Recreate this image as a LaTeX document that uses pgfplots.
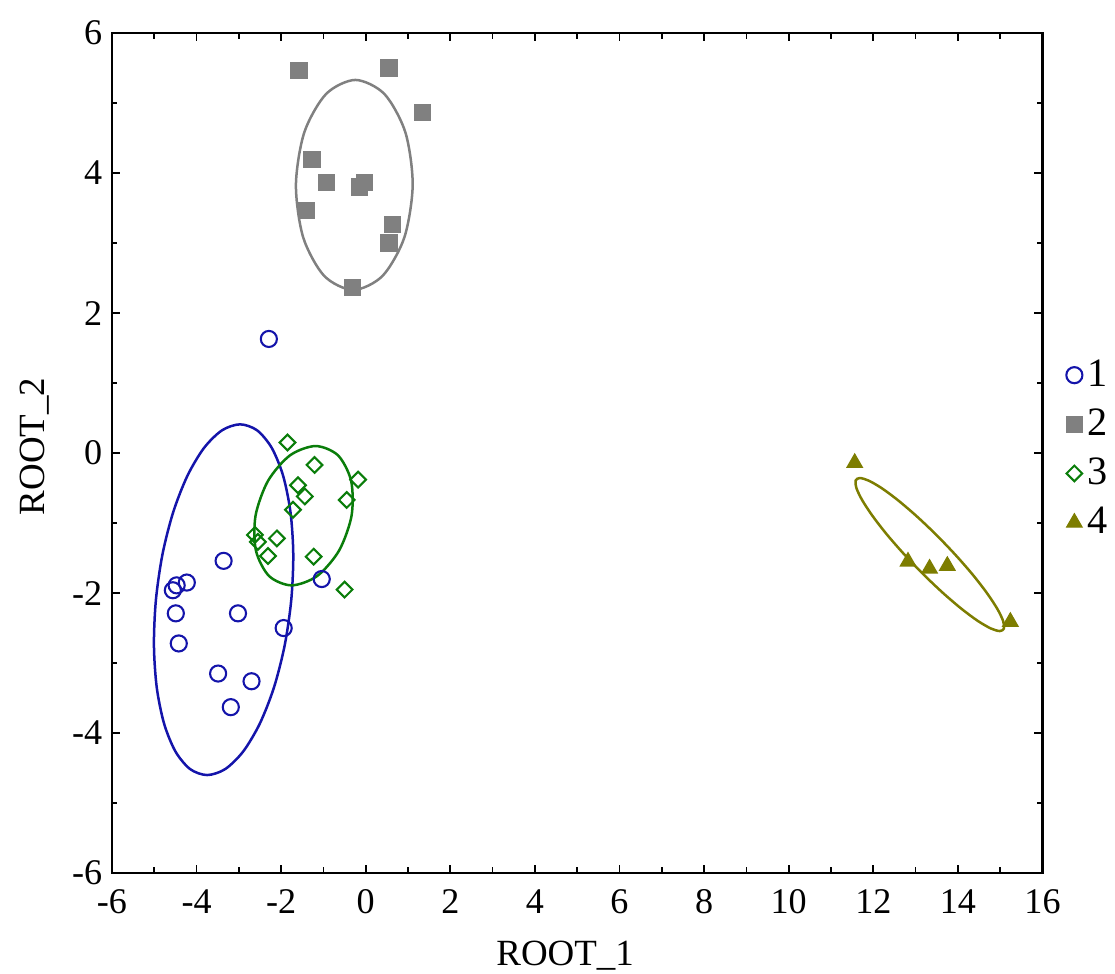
\documentclass[border=0pt]{standalone}
\usepackage{fontspec}
\setmainfont{Liberation Serif}
\usepackage{pgfplots}
\pgfplotsset{compat=1.18}
\definecolor{cblue}{RGB}{20,20,170}
\definecolor{cgray}{RGB}{128,128,128}
\definecolor{cgreen}{RGB}{10,125,10}
\definecolor{colive}{RGB}{125,125,0}
\begin{document}
\begin{tikzpicture}
\begin{axis}[
  scale only axis, width=335pt, height=302.4pt,
  xmin=-6, xmax=16, ymin=-6, ymax=6,
  xtick={-6,-4,...,16}, xticklabels={-6,-4,-2,0,2,4,6,8,10,12,14,16},
  ytick={-6,-4,...,6}, yticklabels={-6,-4,-2,0,2,4,6},
  minor x tick num=1, minor y tick num=1,
  tick align=inside, major tick length=3pt, minor tick length=2pt,
  axis line style={line width=0.8pt},
  every tick/.style={black, line width=0.6pt},
  tick label style={font=\fontsize{13}{15}\selectfont},
  xticklabel style={yshift=-2.5pt},
  xlabel={ROOT\_1}, ylabel={ROOT\_2},
  label style={font=\fontsize{13.3}{15}\selectfont},
  xlabel style={at={(axis description cs:0.487,-0.098)}, anchor=center},
  ylabel style={at={(axis description cs:-0.083,0.508)}, anchor=center},
  legend style={at={(rel axis cs:1.025,0.505)}, anchor=west, draw=none, fill=none,
    font=\fontsize{14.5}{16}\selectfont, row sep=2.6pt, inner sep=0pt},
  legend cell align=left,
  clip=false,
]
% group 1
\addplot[only marks, mark=o, mark size=2.9pt, cblue, mark options={line width=0.75pt}] coordinates {
(-2.29,1.63) (-3.36,-1.54) (-4.56,-1.96) (-4.47,-1.89) (-4.23,-1.85) (-4.49,-2.29)
(-3.02,-2.29) (-1.94,-2.50) (-4.42,-2.72) (-3.49,-3.15) (-2.70,-3.26) (-3.19,-3.63) (-1.04,-1.80)};
\addlegendentry{1}
% group 2
\addplot[only marks, mark=square*, mark size=2.9pt, cgray] coordinates {
(-1.58,5.47) (0.55,5.50) (1.34,4.86) (-1.27,4.19) (-0.93,3.86) (-0.14,3.80) (-0.02,3.86)
(-1.40,3.47) (0.63,3.26) (0.55,3.00) (-0.32,2.37)};
\addlegendentry{2}
% group 3
\addplot[only marks, mark=square, mark size=2.0pt, cgreen, mark options={rotate=45, line width=0.75pt}] coordinates {
(-1.85,0.15) (-1.21,-0.17) (-0.18,-0.38) (-1.60,-0.46) (-1.44,-0.62) (-0.45,-0.67)
(-1.72,-0.81) (-2.62,-1.17) (-2.55,-1.27) (-2.10,-1.22) (-2.31,-1.47) (-1.23,-1.48) (-0.50,-1.95)};
\addlegendentry{3}
% group 4
\addplot[only marks, mark=triangle*, mark size=3.2pt, colive] coordinates {
(11.56,-0.14) (12.82,-1.55) (13.33,-1.65) (13.75,-1.61) (15.24,-2.41)};
\addlegendentry{4}
% ellipses
\addplot[forget plot, cblue, line width=0.9pt, smooth cycle, mark=none] coordinates {
(-2.97,0.41) (-2.569,0.325) (-2.222,0.074) (-1.953,-0.324) (-1.779,-0.843) (-1.713,-1.446)
(-1.76,-2.095) (-1.915,-2.744) (-2.169,-3.348) (-2.505,-3.866) (-2.898,-4.264) (-3.323,-4.515)
(-3.75,-4.60) (-4.151,-4.515) (-4.498,-4.264) (-4.767,-3.866) (-4.941,-3.348) (-5.007,-2.744)
(-4.96,-2.095) (-4.805,-1.446) (-4.551,-0.843) (-4.215,-0.324) (-3.822,0.074) (-3.397,0.325)};
\addplot[forget plot, cgray, line width=0.9pt, smooth cycle, mark=none] coordinates {
(-0.245,5.33) (0.442,5.129) (0.938,4.58) (1.11,3.83) (0.913,3.08) (0.398,2.531)
(-0.295,2.33) (-0.982,2.531) (-1.478,3.08) (-1.65,3.83) (-1.453,4.58) (-0.938,5.129)};
\addplot[forget plot, cgreen, line width=0.9pt, smooth cycle, mark=none] coordinates {
(-1.185,0.10) (-0.655,-0.033) (-0.345,-0.398) (-0.335,-0.895) (-0.630,-1.393) (-1.149,-1.757)
(-1.755,-1.89) (-2.285,-1.757) (-2.596,-1.393) (-2.605,-0.895) (-2.311,-0.398) (-1.791,-0.033)};
\addplot[forget plot, colive, line width=0.9pt, smooth cycle, mark=none] coordinates {
(11.68,-0.357) (11.891,-0.394) (12.202,-0.503) (12.589,-0.677) (13.027,-0.9035) (13.486,-1.167)
(13.935,-1.45) (14.344,-1.733) (14.682,-1.9965) (14.929,-2.223) (15.068,-2.397) (15.089,-2.506)
(14.99,-2.543) (14.779,-2.506) (14.468,-2.397) (14.081,-2.223) (13.643,-1.9965) (13.184,-1.733)
(12.735,-1.45) (12.326,-1.167) (11.988,-0.9035) (11.741,-0.677) (11.602,-0.503) (11.581,-0.394)};
\end{axis}
\pgfresetboundingbox
\path[use as bounding box] (-40.3pt,-36pt) rectangle (361.1pt,314.3pt);
\end{tikzpicture}
\end{document}
